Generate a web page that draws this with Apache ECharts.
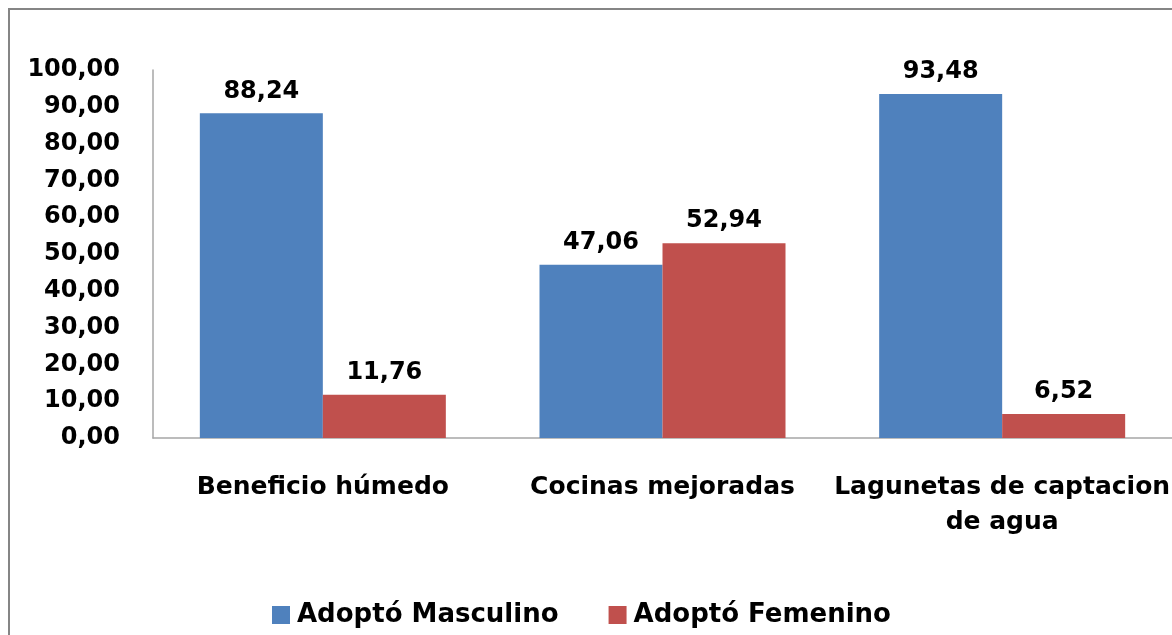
<!DOCTYPE html>
<html><head><meta charset="utf-8">
<script src="https://cdn.jsdelivr.net/npm/echarts@6/dist/echarts.min.js"></script>
<style>html,body{margin:0;padding:0;background:#fff}#c{width:1172px;height:635px}</style>
</head><body><div id="c"></div>
<script>
const categories = ['Beneficio húmedo', 'Cocinas mejoradas', 'Lagunetas de captacion\nde agua'];
const masculino = [88.24, 47.06, 93.48];
const femenino = [11.76, 52.94, 6.52];
const seriesNames = ['Adoptó Masculino', 'Adoptó Femenino'];
const colors = ['#4F81BD', '#C0504D'];
const FONT = 'DejaVu Sans';
const fmt = v => v.toFixed(2).replace('.', ',');
const chart = echarts.init(document.getElementById('c'));
const lbl = {show: true, position: 'top', distance: 10, fontFamily: FONT, fontWeight: 'bold', fontSize: 24, color: '#000', formatter: p => fmt(p.value)};
chart.setOption({
  animation: false,
  graphic: [{type: 'rect', shape: {x: 9, y: 9, width: 1400, height: 1000}, style: {fill: 'none', stroke: '#858585', lineWidth: 2}, z: 100}],
  grid: {left: 153, top: 70, width: 1026, bottom: 197},
  legend: {
    data: seriesNames, top: 597, left: 267, itemWidth: 18, itemHeight: 18, itemGap: 50,
    icon: 'rect', textStyle: {fontFamily: FONT, fontWeight: 'bold', fontSize: 26, color: '#000', padding: [0, 0, 0, 2]}
  },
  xAxis: {
    type: 'category', data: categories,
    axisLine: {lineStyle: {color: '#a6a6a6', width: 1.5}},
    axisTick: {show: false},
    axisLabel: {interval: 0, margin: 32, lineHeight: 35, fontFamily: FONT, fontWeight: 'bold', fontSize: 25, color: '#000'}
  },
  yAxis: {
    type: 'value', min: 0, max: 100, interval: 10,
    axisLine: {show: true, lineStyle: {color: '#a6a6a6', width: 1.5}},
    axisTick: {show: false}, splitLine: {show: false},
    axisLabel: {margin: 33, formatter: v => fmt(v), fontFamily: FONT, fontWeight: 'bold', fontSize: 24, color: '#000'}
  },
  series: [
    {name: seriesNames[0], type: 'bar', data: masculino, barWidth: 123, barGap: '0%', itemStyle: {color: colors[0]}, label: lbl},
    {name: seriesNames[1], type: 'bar', data: femenino, barWidth: 123, barGap: '0%', itemStyle: {color: colors[1]}, label: lbl}
  ]
});
</script></body></html>
